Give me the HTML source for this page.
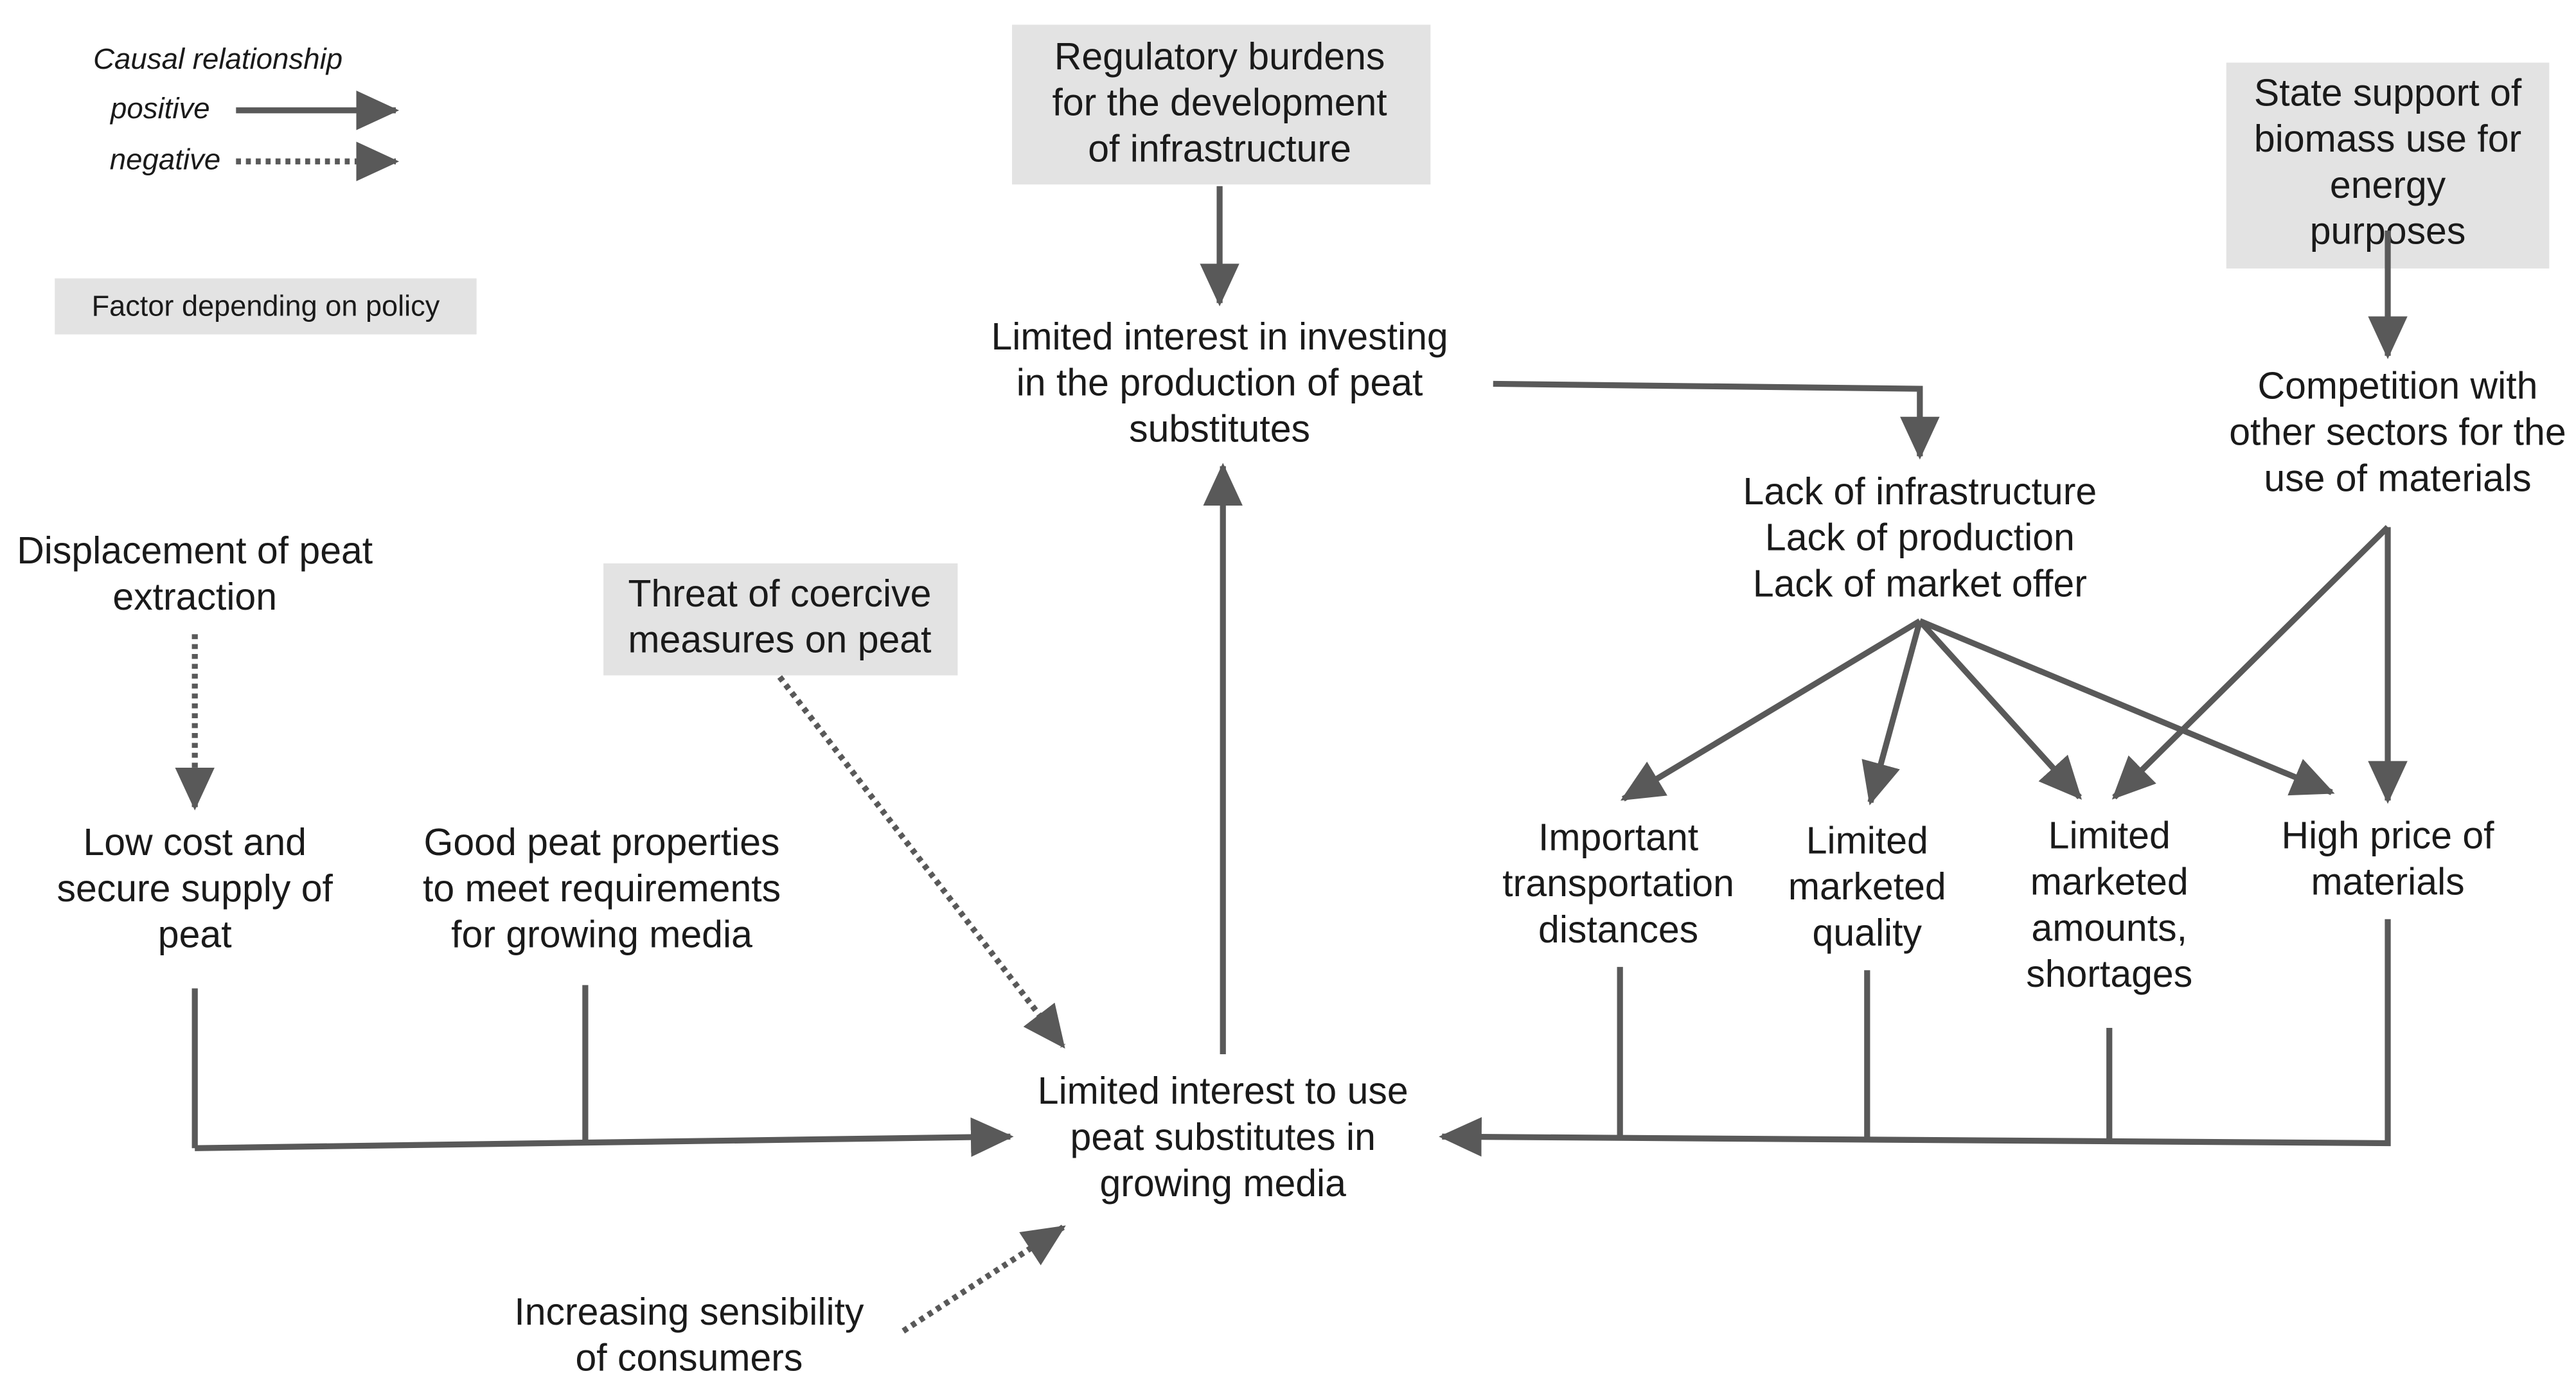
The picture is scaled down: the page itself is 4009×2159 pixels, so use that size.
<!DOCTYPE html>
<html><head><meta charset="utf-8"><style>
html,body{margin:0;padding:0;background:#fff;}
svg{display:block;}
text{font-family:"Liberation Sans",sans-serif;fill:#1a1a1a;font-size:23px;text-anchor:middle;dominant-baseline:middle;}
.l{stroke:#595959;stroke-width:3.6;fill:none;}
.d{stroke:#595959;stroke-width:3.6;fill:none;stroke-dasharray:3,3;}
</style></head><body>
<svg width="4009" height="2159" viewBox="0 0 1563 842" xmlns="http://www.w3.org/2000/svg">
<defs>
<marker id="a" markerUnits="userSpaceOnUse" markerWidth="26" markerHeight="24" refX="24" refY="12" orient="auto">
<path d="M0,0 L26,12 L0,24 Z" fill="#595959"/>
</marker>
</defs>
<!-- legend -->
<text x="132" y="37" style="font-style:italic;font-size:17.8px">Causal relationship</text>
<text x="97" y="67" style="font-style:italic;font-size:17.8px">positive</text>
<text x="100" y="98" style="font-style:italic;font-size:17.8px">negative</text>
<line class="l" x1="143" y1="67" x2="240" y2="67" marker-end="url(#a)"/>
<line class="d" x1="143" y1="98" x2="240" y2="98" marker-end="url(#a)"/>
<rect x="33" y="169" width="256" height="34" fill="#e3e3e3"/>
<text x="161" y="187" style="font-size:17.6px">Factor depending on policy</text>
<!-- policy boxes -->
<rect x="614" y="15" width="254" height="97" fill="#e3e3e3"/>
<text x="740" y="36">Regulatory burdens</text>
<text x="740" y="64">for the development</text>
<text x="740" y="92">of infrastructure</text>
<rect x="1351" y="38" width="196" height="125" fill="#e3e3e3"/>
<text x="1449" y="58">State support of</text>
<text x="1449" y="86">biomass use for</text>
<text x="1449" y="114">energy</text>
<text x="1449" y="142">purposes</text>
<rect x="366" y="342" width="215" height="68" fill="#e3e3e3"/>
<text x="473" y="362">Threat of coercive</text>
<text x="473" y="390">measures on peat</text>
<!-- nodes -->
<text x="740" y="206">Limited interest in investing</text>
<text x="740" y="234">in the production of peat</text>
<text x="740" y="262">substitutes</text>
<text x="1165" y="300">Lack of infrastructure</text>
<text x="1165" y="328">Lack of production</text>
<text x="1165" y="356">Lack of market offer</text>
<text x="1455" y="236">Competition with</text>
<text x="1455" y="264">other sectors for the</text>
<text x="1455" y="292">use of materials</text>
<text x="982" y="510">Important</text>
<text x="982" y="538">transportation</text>
<text x="982" y="566">distances</text>
<text x="1133" y="512">Limited</text>
<text x="1133" y="540">marketed</text>
<text x="1133" y="568">quality</text>
<text x="1280" y="509">Limited</text>
<text x="1280" y="537">marketed</text>
<text x="1280" y="565">amounts,</text>
<text x="1280" y="593">shortages</text>
<text x="1449" y="509">High price of</text>
<text x="1449" y="537">materials</text>
<text x="118" y="336">Displacement of peat</text>
<text x="118" y="364">extraction</text>
<text x="118" y="513">Low cost and</text>
<text x="118" y="541">secure supply of</text>
<text x="118" y="569">peat</text>
<text x="365" y="513">Good peat properties</text>
<text x="365" y="541">to meet requirements</text>
<text x="365" y="569">for growing media</text>
<text x="742" y="664">Limited interest to use</text>
<text x="742" y="692">peat substitutes in</text>
<text x="742" y="720">growing media</text>
<text x="418" y="798">Increasing sensibility</text>
<text x="418" y="826">of consumers</text>
<!-- connectors -->
<line class="l" x1="740" y1="113" x2="740" y2="184" marker-end="url(#a)"/>
<polyline class="l" points="906,233 1165,236 1165,277" marker-end="url(#a)"/>
<line class="l" x1="1449" y1="140" x2="1449" y2="216" marker-end="url(#a)"/>
<line class="l" x1="1165" y1="377" x2="985" y2="485" marker-end="url(#a)"/>
<line class="l" x1="1165" y1="377" x2="1135" y2="487" marker-end="url(#a)"/>
<line class="l" x1="1165" y1="377" x2="1262" y2="484" marker-end="url(#a)"/>
<line class="l" x1="1165" y1="377" x2="1415" y2="481" marker-end="url(#a)"/>
<line class="l" x1="1449" y1="320" x2="1449" y2="486" marker-end="url(#a)"/>
<line class="l" x1="1449" y1="320" x2="1283" y2="484" marker-end="url(#a)"/>
<line class="l" x1="983" y1="587" x2="983" y2="691"/>
<line class="l" x1="1133" y1="589" x2="1133" y2="692"/>
<line class="l" x1="1280" y1="624" x2="1280" y2="693"/>
<polyline class="l" points="1449,558 1449,694 875,690" marker-end="url(#a)"/>
<line class="d" x1="118" y1="385" x2="118" y2="490" marker-end="url(#a)"/>
<line class="l" x1="118" y1="600" x2="118" y2="697"/>
<line class="l" x1="355" y1="598" x2="355" y2="693"/>
<line class="l" x1="118" y1="697" x2="613" y2="690" marker-end="url(#a)"/>
<line class="d" x1="473" y1="411" x2="645" y2="635" marker-end="url(#a)"/>
<line class="l" x1="742" y1="640" x2="742" y2="283" marker-end="url(#a)"/>
<line class="d" x1="548" y1="808" x2="645" y2="745" marker-end="url(#a)"/>
</svg>
</body></html>
